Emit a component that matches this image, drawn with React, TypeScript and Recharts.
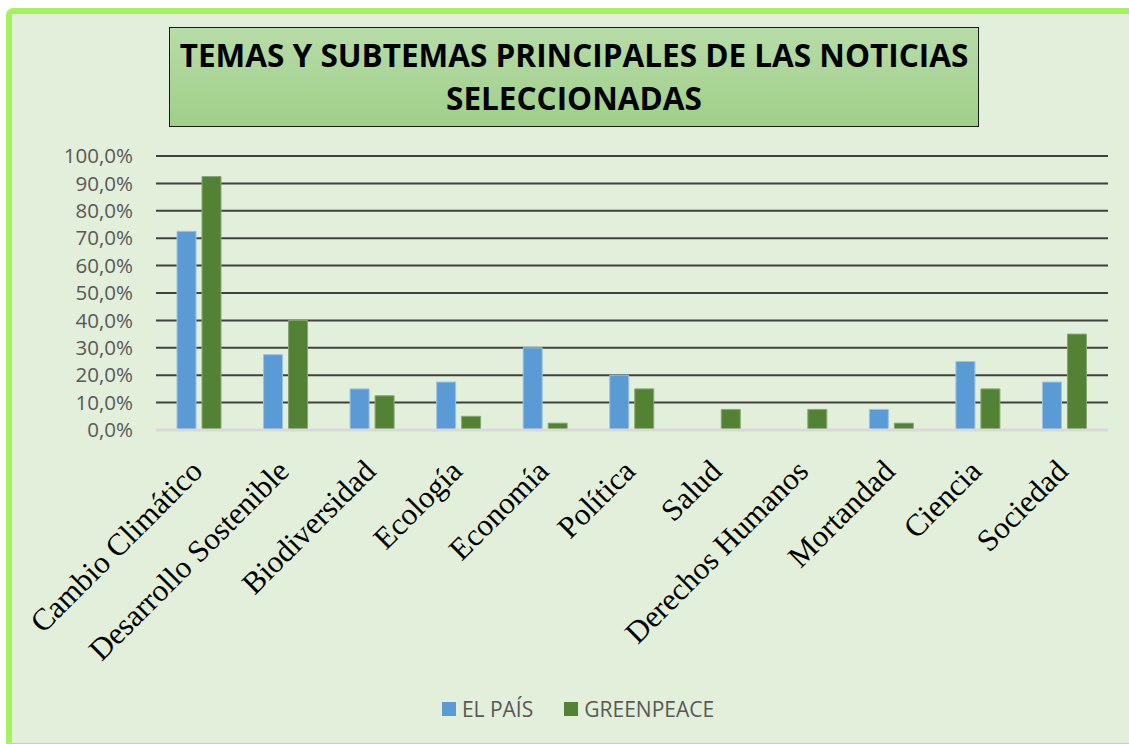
import React from 'react';
import { BarChart, Bar, XAxis, YAxis, CartesianGrid, Legend } from 'recharts';

const categories = [
  'Cambio Climático',
  'Desarrollo Sostenible',
  'Biodiversidad',
  'Ecología',
  'Economía',
  'Política',
  'Salud',
  'Derechos Humanos',
  'Mortandad',
  'Ciencia',
  'Sociedad',
];
const elPais = [72.5, 27.5, 15, 17.5, 30, 20, 0, 0, 7.5, 25, 17.5];
const greenpeace = [92.5, 40, 12.5, 5, 2.5, 15, 7.5, 7.5, 2.5, 15, 35];
const yTicks = [0, 10, 20, 30, 40, 50, 60, 70, 80, 90, 100];
const seriesNames = ['EL PAÍS', 'GREENPEACE'];
const titleLines = ['TEMAS Y SUBTEMAS PRINCIPALES DE LAS NOTICIAS', 'SELECCIONADAS'];

const data = categories.map((c, i) => ({ name: c, elPais: elPais[i], greenpeace: greenpeace[i] }));

const BLUE = '#5b9bd5';
const GREEN = '#548235';
const SANS = '"Open Sans", Lato, sans-serif';

const XTick = (props: any) => {
  const { x, y, payload } = props;
  const tx = x + 5;
  const ty = y + 35;
  return (
    <g>
      <text
        x={tx}
        y={ty}
        transform={`rotate(-45 ${tx} ${ty})`}
        textAnchor="end"
        fontFamily='"Liberation Serif", "Times New Roman", serif'
        fontSize={31}
        fill="#000"
      >
        {payload.value}
      </text>
    </g>
  );
};

const LegendContent = () => {
  const colors = [BLUE, GREEN];
  return (
    <div
      style={{
        display: 'flex',
        justifyContent: 'center',
        alignItems: 'center',
        width: '100%',
        boxSizing: 'border-box',
        paddingLeft: 27,
      }}
    >
      {seriesNames.map((n, i) => (
        <div key={n} style={{ display: 'flex', alignItems: 'center', marginRight: i === 0 ? 31 : 0, flexShrink: 0 }}>
          <div style={{ width: 14, height: 14, minWidth: 14, background: colors[i], marginRight: 6, flexShrink: 0 }} />
          <span style={{ fontFamily: SANS, fontSize: 21, color: '#595959', lineHeight: '24px', whiteSpace: 'nowrap' }}>{n}</span>
        </div>
      ))}
    </div>
  );
};

export default function App() {
  return (
    <div style={{ position: 'fixed', left: 0, top: 0, width: 1129, height: 744, overflow: 'hidden', background: '#fff' }}>
      <div
        style={{
          position: 'absolute',
          left: 6,
          top: 8,
          width: 1140,
          height: 741,
          boxSizing: 'border-box',
          border: '6px solid #a6f15e',
          borderRadius: 7,
          background: '#e2efda',
        }}
      />
      <div style={{ position: 'absolute', left: 0, top: 0 }}>
        <BarChart
          width={1129}
          height={744}
          data={data}
          margin={{ top: 156, right: 21, bottom: 260, left: 0 }}
          barSize={19}
          barGap={6}
        >
          <CartesianGrid vertical={false} stroke="#404040" strokeWidth={2} />
          <XAxis
            dataKey="name"
            interval={0}
            height={30}
            tickLine={false}
            axisLine={{ stroke: '#d9d9d9', strokeWidth: 3 }}
            tick={<XTick />}
          />
          <YAxis
            width={156}
            domain={[0, 100]}
            ticks={yTicks}
            interval={0}
            tickLine={false}
            axisLine={false}
            tickSize={0}
            tickMargin={23}
            tickFormatter={(v: number) => `${v.toFixed(1).replace('.', ',')}%`}
            tick={{ fontFamily: SANS, fontSize: 20.5, fill: '#595959' }}
          />
          <Legend
            verticalAlign="bottom"
            height={40}
            content={<LegendContent />}
            wrapperStyle={{ top: 697, left: 0, width: 1129, height: 24 }}
          />
          <Bar dataKey="elPais" name={seriesNames[0]} fill={BLUE} stroke="#9cc2e6" strokeWidth={1} isAnimationActive={false} />
          <Bar dataKey="greenpeace" name={seriesNames[1]} fill={GREEN} stroke="#86a873" strokeWidth={1} isAnimationActive={false} />
        </BarChart>
      </div>
      <div
        style={{
          position: 'absolute',
          left: 169,
          top: 27,
          width: 810,
          height: 100,
          boxSizing: 'border-box',
          border: '1px solid #1a1a1a',
          background: 'linear-gradient(#b8dca8, #9fcf89)',
          textAlign: 'center',
          fontFamily: SANS,
          fontWeight: 700,
          fontSize: 31.5,
          lineHeight: '43px',
          color: '#000',
          paddingTop: 5,
          whiteSpace: 'nowrap',
        }}
      >
        {titleLines.map((l) => (
          <div key={l}>{l}</div>
        ))}
      </div>
    </div>
  );
}
